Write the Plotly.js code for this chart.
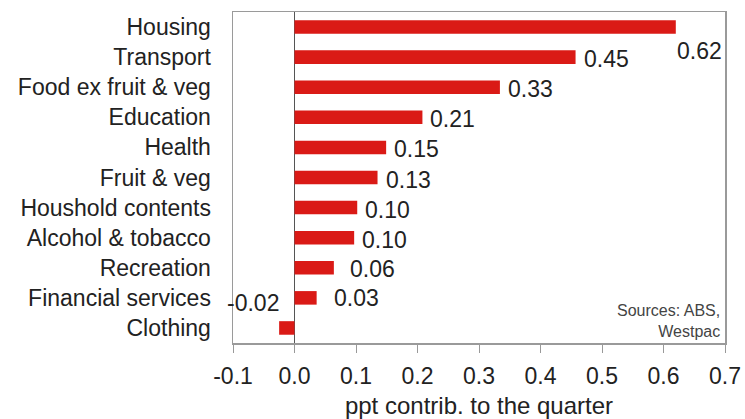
<!DOCTYPE html>
<html>
<head>
<meta charset="utf-8">
<script src="https://cdn.plot.ly/plotly-3.0.1.min.js"></script>
<style>
  html, body { margin: 0; padding: 0; background: #fff; }
  #chart { width: 745px; height: 419px; }
</style>
</head>
<body>
<div id="chart"></div>
<script>
// ---- data ----
var categories = ["Housing", "Transport", "Food ex fruit & veg", "Education", "Health",
                  "Fruit & veg", "Houshold contents", "Alcohol & tobacco", "Recreation",
                  "Financial services", "Clothing"];
var values = [0.62, 0.457, 0.334, 0.208, 0.149, 0.135, 0.102, 0.097, 0.064, 0.036, -0.025];
var valueLabels = ["0.62", "0.45", "0.33", "0.21", "0.15", "0.13", "0.10", "0.10", "0.06", "0.03", "-0.02"];
var tickValues = [-0.1, 0, 0.1, 0.2, 0.3, 0.4, 0.5, 0.6, 0.7];
var tickLabels = ["-0.1", "0.0", "0.1", "0.2", "0.3", "0.4", "0.5", "0.6", "0.7"];
var axisTitle = "ppt contrib. to the quarter";
var sourceText = "Sources: ABS,<br>Westpac";

// ---- label placement tweaks (style, not data) ----
var labelOffsets = {
  "Housing": {xanchor: "left", xshift: -1, yshift: -24},
  "Recreation": {xanchor: "left", xshift: 14, yshift: -1},
  "Financial services": {xanchor: "left", xshift: 15, yshift: 0},
  "Clothing": {xanchor: "right", xshift: 2, yshift: 25}
};

var FONT = '"Liberation Sans", Arial, sans-serif';

var annotations = categories.map(function (c, i) {
  var o = labelOffsets[c] || {xanchor: "left", xshift: 6, yshift: -2};
  return {
    x: values[i], y: c, xref: "x", yref: "y",
    text: valueLabels[i], showarrow: false,
    xanchor: o.xanchor, yanchor: "middle",
    xshift: o.xshift, yshift: o.yshift,
    font: {family: FONT, size: 23, color: "#222"}
  };
});
annotations.push({
  xref: "paper", yref: "paper", x: 0.994, y: 0.066,
  xanchor: "right", yanchor: "middle", align: "right",
  text: sourceText, showarrow: false,
  font: {family: FONT, size: 16, color: "#444"}
});

var trace = {
  type: "bar", orientation: "h",
  x: values, y: categories,
  width: 0.45,
  marker: {color: "#da1a16"},
  hoverinfo: "x+y"
};

var layout = {
  width: 745, height: 419,
  margin: {l: 233, r: 20, t: 12, b: 76},
  paper_bgcolor: "#fff", plot_bgcolor: "#fff",
  showlegend: false,
  font: {family: FONT, color: "#222"},
  xaxis: {
    range: [-0.1, 0.7],
    autorange: false,
    tickmode: "array",
    tickvals: tickValues,
    ticktext: tickLabels,
    ticks: "outside", ticklen: 8, tickwidth: 1, tickcolor: "#999",
    ticklabelstandoff: 4,
    tickfont: {family: FONT, size: 23, color: "#222"},
    showgrid: false,
    zeroline: true, zerolinecolor: "#555", zerolinewidth: 1,
    showline: true, mirror: true, linecolor: "#9a9a9a", linewidth: 1.5,
    title: {text: axisTitle, font: {family: FONT, size: 24, color: "#222"}, standoff: 14}
  },
  yaxis: {
    type: "category",
    range: [categories.length - 0.5, -0.5],
    autorange: false,
    tickmode: "array",
    tickvals: categories,
    ticktext: categories,
    ticks: "outside", ticklen: 16, tickcolor: "rgba(0,0,0,0)",
    tickfont: {family: FONT, size: 23, color: "#222"},
    showgrid: false, zeroline: false,
    showline: true, mirror: true, linecolor: "#9a9a9a", linewidth: 1.5
  },
  annotations: annotations
};

Plotly.newPlot("chart", [trace], layout, {staticPlot: true, displayModeBar: false});
</script>
</body>
</html>
